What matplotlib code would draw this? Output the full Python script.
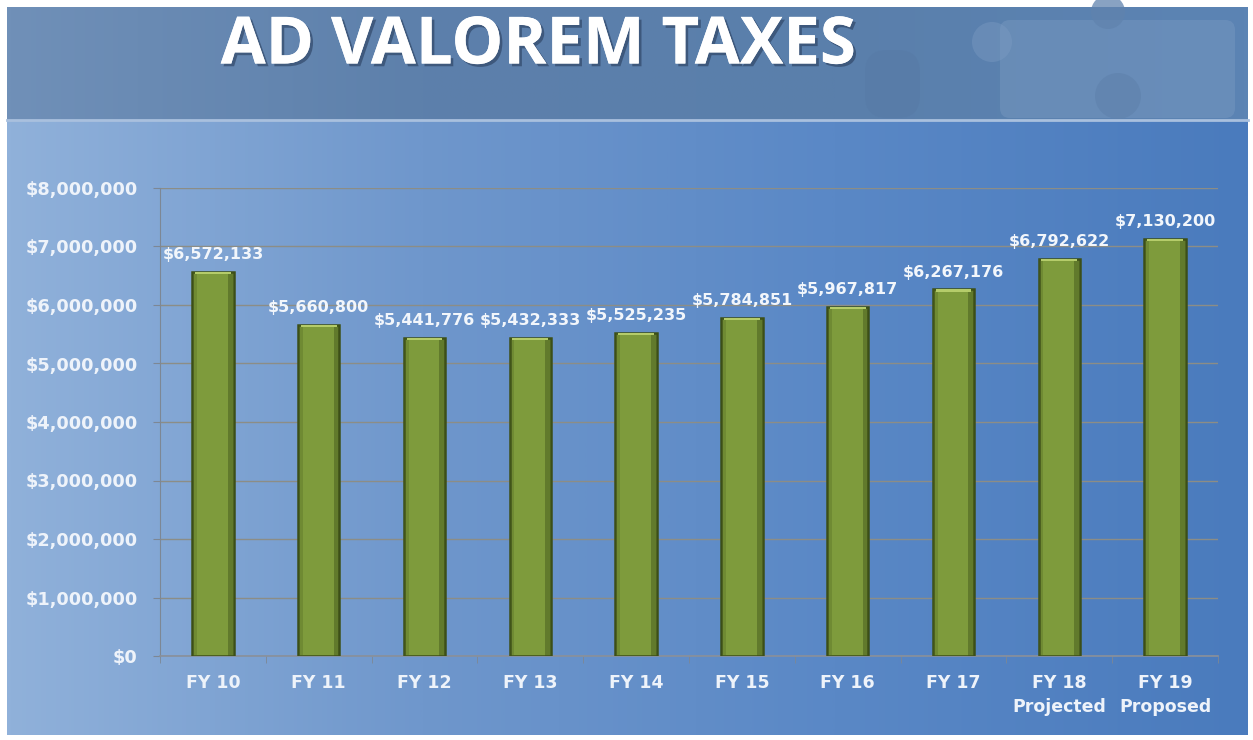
import matplotlib
matplotlib.use("Agg")
import matplotlib.pyplot as plt
import matplotlib.patheffects as pe
import numpy as np
from matplotlib.colors import LinearSegmentedColormap
from matplotlib.patches import Circle, FancyBboxPatch

categories = ["FY 10", "FY 11", "FY 12", "FY 13", "FY 14", "FY 15", "FY 16", "FY 17", "FY 18\nProjected", "FY 19\nProposed"]
values = [6572133, 5660800, 5441776, 5432333, 5525235, 5784851, 5967817, 6267176, 6792622, 7130200]
yticks = [0, 1000000, 2000000, 3000000, 4000000, 5000000, 6000000, 7000000, 8000000]
title = "AD VALOREM TAXES"

W, H = 1253, 740
fig = plt.figure(figsize=(W / 100, H / 100), dpi=100)
fig.patch.set_facecolor("white")

# background in pixel coordinates
bg = fig.add_axes([0, 0, 1, 1])
bg.set_xlim(0, W)
bg.set_ylim(H, 0)
bg.axis("off")
grad = np.linspace(0, 1, 512).reshape(1, -1)
cm_low = LinearSegmentedColormap.from_list("low", ["#90b1da", "#6f97cc", "#5a88c6", "#4a7bbd"])
bg.imshow(grad, aspect="auto", cmap=cm_low, extent=[7, W - 5, 735, 120], zorder=0)
cm_top = LinearSegmentedColormap.from_list("top", ["#7090b8", "#5d80ab", "#5a7fab", "#5c84b4"])
bg.imshow(grad, aspect="auto", cmap=cm_top, extent=[7, W - 5, 120, 7], zorder=0)
# faint puzzle pieces
light = "#7e9dc4"
bg.add_patch(FancyBboxPatch((1000, 20), 235, 98, boxstyle="round,pad=0,rounding_size=10",
                            facecolor=light, edgecolor="none", alpha=0.4, zorder=1))
bg.add_patch(Circle((992, 42), 20, facecolor=light, edgecolor="none", alpha=0.4, zorder=1))
bg.add_patch(Circle((1118, 96), 23, facecolor="#6083ae", edgecolor="none", alpha=0.75, zorder=2))
bg.add_patch(Circle((1108, 12), 17, facecolor="#6083ae", edgecolor="none", alpha=0.75, zorder=2))
bg.add_patch(FancyBboxPatch((865, 50), 55, 68, boxstyle="round,pad=0,rounding_size=22",
                            facecolor="#5679a5", edgecolor="none", alpha=0.45, zorder=1))
bg.axhline(120, xmin=7 / W, xmax=(W - 5) / W, color="#a9c0de", lw=2, zorder=3)
bg.set_xlim(0, W)
bg.set_ylim(H, 0)

fig.text(538 / W, 1 - 47 / H, title, ha="center", va="center", color="white",
         fontsize=47, fontweight="bold", family="Open Sans",
         path_effects=[pe.withSimplePatchShadow(offset=(2, -2), shadow_rgbFace="#2a3f5e", alpha=0.6), pe.Normal()])

ax = fig.add_axes([160 / W, 1 - 656 / H, (1218 - 160) / W, (656 - 188) / H])
ax.set_facecolor("none")
x = np.arange(len(categories))
bw = 0.39
ax.bar(x, values, width=bw, color="#7e9b3c", edgecolor="#3c4f17", linewidth=1.8, zorder=3)
# side shading and top highlight bevel
ax.bar(x + bw / 2 - 0.03, values, width=0.05, color="#3f5219", alpha=0.45, edgecolor="none", zorder=4)
ax.bar(x - bw / 2 + 0.025, values, width=0.04, color="#4d6320", alpha=0.3, edgecolor="none", zorder=4)
ax.bar(x, [v * 0.006 for v in values], bottom=[v * 0.994 for v in values], width=0.34,
       color="#b5cc6a", edgecolor="none", zorder=5)

ax.set_xlim(-0.5, len(categories) - 0.5)
ax.set_ylim(0, 8000000)
ax.set_yticks(yticks)
ax.set_yticklabels(["${:,.0f}".format(v) for v in yticks], fontsize=12.8, fontweight="bold",
                   color="#eef3fa", family="DejaVu Sans")
ax.yaxis.grid(True, color="#8c8d86", linewidth=1, zorder=1)
ax.set_axisbelow(True)
ax.set_xticks(x)
ax.set_xticklabels(categories, linespacing=1.4, fontsize=12.5, fontweight="bold",
                   color="#eef3fa", family="DejaVu Sans")
ax.set_xticks(np.arange(-0.5, len(categories)), minor=True)
ax.xaxis.set_tick_params(which="major", length=0, pad=13)
ax.xaxis.set_tick_params(which="minor", length=5, color="#7d8794", direction="out")
ax.yaxis.set_tick_params(which="major", length=5, color="#7d8794", pad=11)
for s in ["top", "right"]:
    ax.spines[s].set_visible(False)
ax.spines["left"].set_color("#7d8794")
ax.spines["bottom"].set_color("#8a909a")
ax.spines["bottom"].set_linewidth(1.2)

for xi, v in zip(x, values):
    ax.annotate("${:,.0f}".format(v), (xi, v), xytext=(0, 7), textcoords="offset points",
                ha="center", va="bottom", color="#f2f6fb", fontsize=11.5, fontweight="bold",
                family="DejaVu Sans", zorder=6)

fig.savefig("out.png", dpi=100, facecolor="white")
